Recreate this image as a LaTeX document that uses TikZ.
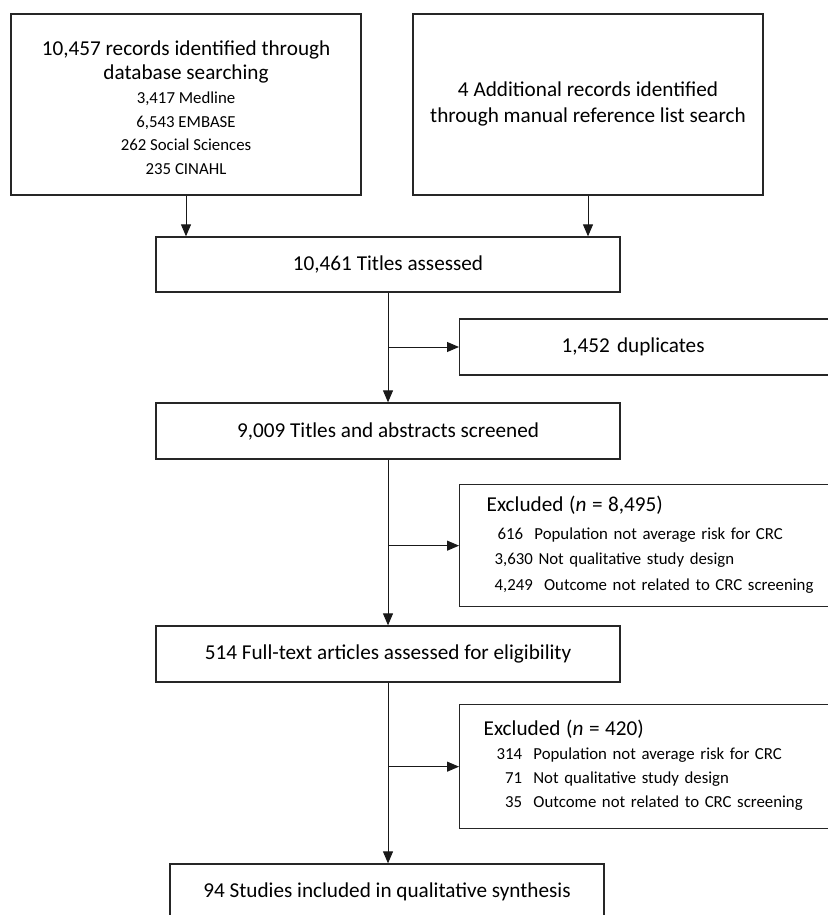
\documentclass[tikz,border=0pt]{standalone}
\usepackage{fontspec}
\setmainfont{Carlito}
\usetikzlibrary{arrows.meta}
\newcommand{\fmain}{\fontsize{21.2}{25}\selectfont}
\newcommand{\fsub}{\fontsize{16.8}{23.8}\selectfont}
\tikzset{box/.style={draw=black!85, line width=1.3pt, inner sep=0pt, font=\fmain, text=black}}
\tikzset{arr/.style={-{Triangle[length=12pt,width=10pt]}, line width=1pt, black!90}}

\begin{document}
\begin{tikzpicture}[x=1pt, y=-1pt]
\useasboundingbox (0,0) rectangle (827,915);

% sources
\node[box, minimum width=350pt, minimum height=181pt, font=\fsub] (rec) at (186,104.5)
 {\begin{tabular}{@{}c@{}}
  \noalign{\vspace{12pt}}
  {\fmain 10,457 records identified through}\\
  {\fmain database searching}\\
  3,417 Medline\\
  6,543 EMBASE\\
  262 Social Sciences\\
  235 CINAHL
 \end{tabular}};
\node[box, minimum width=350pt, minimum height=181pt] (add) at (588,104.5)
 {\begin{tabular}{@{}c@{}}
  4 Additional records identified\\
  through manual reference list search
 \end{tabular}};

% main chain
\node[box, minimum width=464pt, minimum height=55pt] (tit) at (388,264.5) {10,461 Titles assessed};
\node[box, minimum width=464pt, minimum height=56pt] (scr) at (388,431) {9,009 Titles and abstracts screened};
\node[box, minimum width=464pt, minimum height=56pt] (ful) at (388,654) {514 Full-text articles assessed for eligibility};
\node[box, minimum width=434pt, minimum height=56pt] (inc) at (387,892) {94 Studies included in qualitative synthesis};

% side boxes
\node[box, anchor=west, minimum height=56pt, text width=420pt, align=left] (dup) at (459,347)
 {\hspace*{102pt}1,452 duplicates};
\node[box, anchor=north west, minimum height=122pt, text width=400pt, inner xsep=27pt, align=left, font=\fontsize{16.8}{25.5}\selectfont] (exa) at (459,484)
 {\begin{tabular}{@{}l@{}}
  {\fmain Excluded (\textit{n} = 8,495)}\\[2.5pt]
  \hspace*{11pt}616\ \ Population not average risk for CRC\\
  \hspace*{8pt}3,630 Not qualitative study design\\
  \hspace*{8pt}4,249\ \ Outcome not related to CRC screening
 \end{tabular}};
\node[box, anchor=north west, minimum height=124pt, text width=400pt, inner xsep=24pt, align=left, font=\fsub] (exb) at (459,704)
 {\begin{tabular}{@{\hspace*{13pt}}r@{\ \ }l@{}}
  \multicolumn{2}{@{}l@{}}{\fmain Excluded (\textit{n} = 420)}\\
  314 & Population not average risk for CRC\\
  71 & Not qualitative study design\\
  35 & Outcome not related to CRC screening
 \end{tabular}};

% connectors
\foreach \s in {rec, add}
 {
 \draw[arr] (\s.south) -- (\s.south |- tit.north);
 }
\foreach \u/\v in {tit/scr, scr/ful}
 {
 \draw[arr] (\u.south) -- (\v.north);
 }
\draw[arr] (ful.south) -- (ful.south |- inc.north);
\foreach \u/\v in {tit/dup, scr/exa, ful/exb}
 {
 \draw[arr] (\u.south |- \v.west) -- (\v.west);
 }

\end{tikzpicture}
\end{document}
